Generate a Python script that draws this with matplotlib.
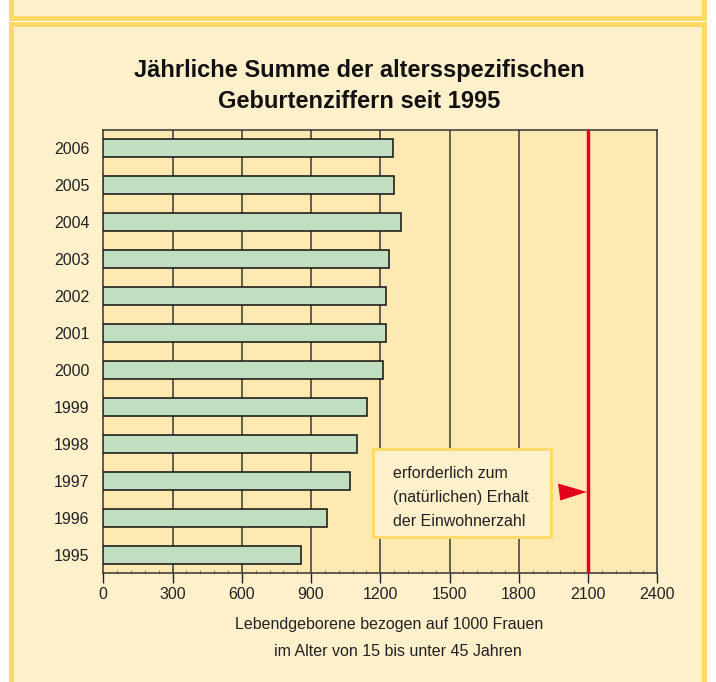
import matplotlib
matplotlib.use("Agg")
import matplotlib.pyplot as plt
from matplotlib.patches import Rectangle, Polygon, FancyBboxPatch
from matplotlib.ticker import MultipleLocator

plt.rcParams["font.family"] = ["Liberation Sans", "DejaVu Sans"]

# data
years = ["1995", "1996", "1997", "1998", "1999", "2000",
         "2001", "2002", "2003", "2004", "2005", "2006"]
values = [855, 971, 1067, 1100, 1144, 1213, 1223, 1226, 1238, 1290, 1258, 1253]
required = 2100
x_ticks = [0, 300, 600, 900, 1200, 1500, 1800, 2100, 2400]

title_lines = ["Jährliche Summe der altersspezifischen", "Geburtenziffern seit 1995"]
xlabel_lines = ["Lebendgeborene bezogen auf 1000 Frauen",
                "im Alter von 15 bis unter 45 Jahren"]
note_lines = ["erforderlich zum", "(natürlichen) Erhalt", "der Einwohnerzahl"]

W, H = 716, 682
PANEL_BG = "#FFF0CC"
PANEL_EDGE = "#FFD966"
PLOT_BG = "#FEE9B3"
BAR_FILL = "#C2DEC0"
RED = "#E3001B"


def px(x, y):
    """pixel coords (top-left origin) -> figure fraction"""
    return x / W, 1 - y / H


fig = plt.figure(figsize=(W / 100, H / 100), dpi=100)
fig.patch.set_facecolor("white")

# two framed panels (the upper one is cut off by the image edge)
bw = 5 * 0.72
x0, _ = px(10.5, 0)
x1, _ = px(703.5, 0)
_, yb = px(0, 17.5)
fig.patches.append(Rectangle((x0, yb), x1 - x0, 0.2, transform=fig.transFigure,
                             facecolor=PANEL_BG, edgecolor=PANEL_EDGE, linewidth=bw, zorder=-2))
_, yt = px(0, 23.5)
fig.patches.append(Rectangle((x0, -0.2), x1 - x0, yt + 0.2, transform=fig.transFigure,
                             facecolor=PANEL_BG, edgecolor=PANEL_EDGE, linewidth=bw, zorder=-2))

# title
for i, line in enumerate(title_lines):
    tx, ty = px(359, 70 + 31 * i)
    fig.text(tx, ty, line, ha="center", va="center", fontsize=17,
             fontweight="bold", color="#111111")

# axes
l, b = 103.3 / W, 1 - 573.3 / H
ax = fig.add_axes([l, b, 554 / W, (573.3 - 129.7) / H])
ax.set_zorder(1)
ax.set_facecolor(PLOT_BG)

ypos = range(len(years))
for xv in x_ticks[1:-1]:
    ax.axvline(xv, color="#3a3a3a", linewidth=1.1, zorder=1)

ax.barh(ypos, values, height=0.5, color=BAR_FILL, edgecolor="#111111",
        linewidth=1.1, zorder=3)

ax.axvline(required, color=RED, linewidth=2.5, zorder=4)

ax.set_xlim(0, 2400)
ax.set_ylim(-0.5, len(years) - 0.5)
ax.set_xticks(x_ticks)
ax.xaxis.set_minor_locator(MultipleLocator(60))
ax.set_yticks(list(ypos))
ax.set_yticklabels(years)
ax.tick_params(axis="x", which="major", direction="out", length=7, width=1,
               labelsize=11.5, pad=3, colors="#222222")
ax.tick_params(axis="x", which="minor", direction="in", length=2.5, width=0.7,
               colors="#777777")
ax.tick_params(axis="y", length=0, labelsize=11.5, pad=10, colors="#222222")
for s in ax.spines.values():
    s.set_color("#333333")
    s.set_linewidth(1.1)

# note box with pointer to the required level
box = FancyBboxPatch((1167, 0.47), 1940 - 1167, 2.85 - 0.47,
                     boxstyle="square,pad=0", facecolor=PANEL_BG,
                     edgecolor=PANEL_EDGE, linewidth=2, zorder=5)
ax.add_patch(box)
for i, line in enumerate(note_lines):
    ax.text(1255, 2.2 - 0.65 * i, line, ha="left", va="center", fontsize=11.5,
            color="#222222", zorder=6)

ty = 1.70
tri = Polygon([(required - 130, ty + 0.23), (required - 5, ty),
               (required - 120, ty - 0.23)], closed=True,
              facecolor=RED, edgecolor="none", zorder=6)
ax.add_patch(tri)

# x-axis caption
cx, cy = px(389, 625)
fig.text(cx, cy, xlabel_lines[0], ha="center", va="center", fontsize=11.5, color="#222222")
cx, cy = px(397.5, 652)
fig.text(cx, cy, xlabel_lines[1], ha="center", va="center", fontsize=11.5, color="#222222")

fig.savefig("out.png", dpi=100, facecolor=fig.get_facecolor())
